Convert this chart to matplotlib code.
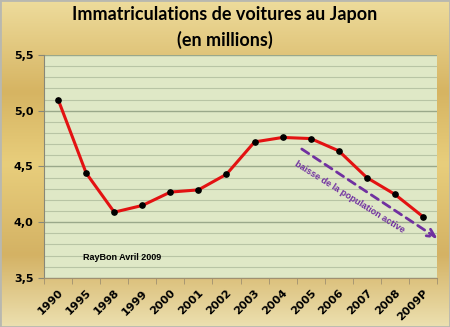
import numpy as np
import matplotlib.pyplot as plt
from matplotlib.colors import LinearSegmentedColormap
from matplotlib.ticker import MultipleLocator, FuncFormatter

years = ["1990", "1995", "1998", "1999", "2000", "2001", "2002",
         "2003", "2004", "2005", "2006", "2007", "2008", "2009P"]
registrations = [5.10, 4.44, 4.09, 4.15, 4.27, 4.29, 4.43,
                 4.72, 4.76, 4.75, 4.64, 4.40, 4.25, 4.05]

fig = plt.figure(figsize=(4.5, 3.27), dpi=100)

# golden background gradient
bg = fig.add_axes([0, 0, 1, 1], zorder=-10)
gold = LinearSegmentedColormap.from_list(
    "gold",
    [(0.0, "#eedc9c"), (0.28, "#d6b462"), (0.5, "#e8ce7c"),
     (0.78, "#d4b264"), (1.0, "#ece0b0")])
grad = np.linspace(0, 1, 256).reshape(-1, 1)
bg.imshow(grad, aspect="auto", cmap=gold, extent=[0, 1, 0, 1], origin="upper")
bg.set_axis_off()
fig.patches.append(plt.Rectangle((0, 0), 1, 1, transform=fig.transFigure,
                                 fill=False, edgecolor="#b8b8b0", lw=2))

ax = fig.add_axes([0.098, 0.150, 0.873, 0.682])
ax.set_facecolor("#dfe8c6")
x = np.arange(len(years))
ax.plot(x, registrations, color="#e31212", lw=2.2, zorder=3)
ax.plot(x, registrations, "o", color="black", ms=3.8, zorder=4)

ax.set_xlim(-0.5, len(years) - 0.5)
ax.set_ylim(3.5, 5.5)
ax.yaxis.set_major_locator(MultipleLocator(0.5))
ax.yaxis.set_minor_locator(MultipleLocator(0.1))
ax.yaxis.set_major_formatter(FuncFormatter(lambda v, p: f"{v:.1f}".replace(".", ",")))
ax.grid(axis="y", which="major", color="#9aa88a", lw=1.0)
ax.grid(axis="y", which="minor", color="#b8c4a4", lw=0.8)
ax.set_axisbelow(True)

ax.set_xticks(x)
ax.set_xticklabels(years, rotation=45, ha="right", rotation_mode="anchor",
                   fontsize=8, fontweight="bold")
ax.set_xticks(np.arange(len(years) + 1) - 0.5, minor=True)
ax.tick_params(axis="x", which="major", length=0, pad=7)
ax.tick_params(axis="x", which="minor", length=4, color="#a09070")
ax.tick_params(axis="y", which="major", labelsize=8, length=4, color="#888878")
ax.tick_params(axis="y", which="minor", length=0)
for lab in ax.get_yticklabels():
    lab.set_fontweight("bold")

for s in ["top", "right"]:
    ax.spines[s].set_visible(False)
ax.spines["left"].set_color("#888878")
ax.spines["bottom"].set_color("#a09070")

ax.annotate("", xy=(13.6, 3.84), xytext=(8.6, 4.67),
            arrowprops=dict(arrowstyle="->", color="#7030a0", lw=2,
                            linestyle=(0, (3, 2)), mutation_scale=14),
            annotation_clip=False)
ax.text(10.4, 4.23, "baisse de la population active", color="#7030a0",
        fontsize=6.5, fontweight="bold", rotation=-32, family="Liberation Sans",
        ha="center", va="center")
ax.text(0.9, 3.68, "RayBon Avril 2009", fontsize=6.5, fontweight="bold",
        family="Liberation Sans", ha="left", va="center")

fig.text(0.5, 0.955, "Immatriculations de voitures au Japon", ha="center",
         va="center", fontsize=13, fontweight="bold", family="Lato")
fig.text(0.5, 0.878, "(en millions)", ha="center", va="center",
         fontsize=13, fontweight="bold", family="Lato")

fig.savefig("out.png", dpi=100)
